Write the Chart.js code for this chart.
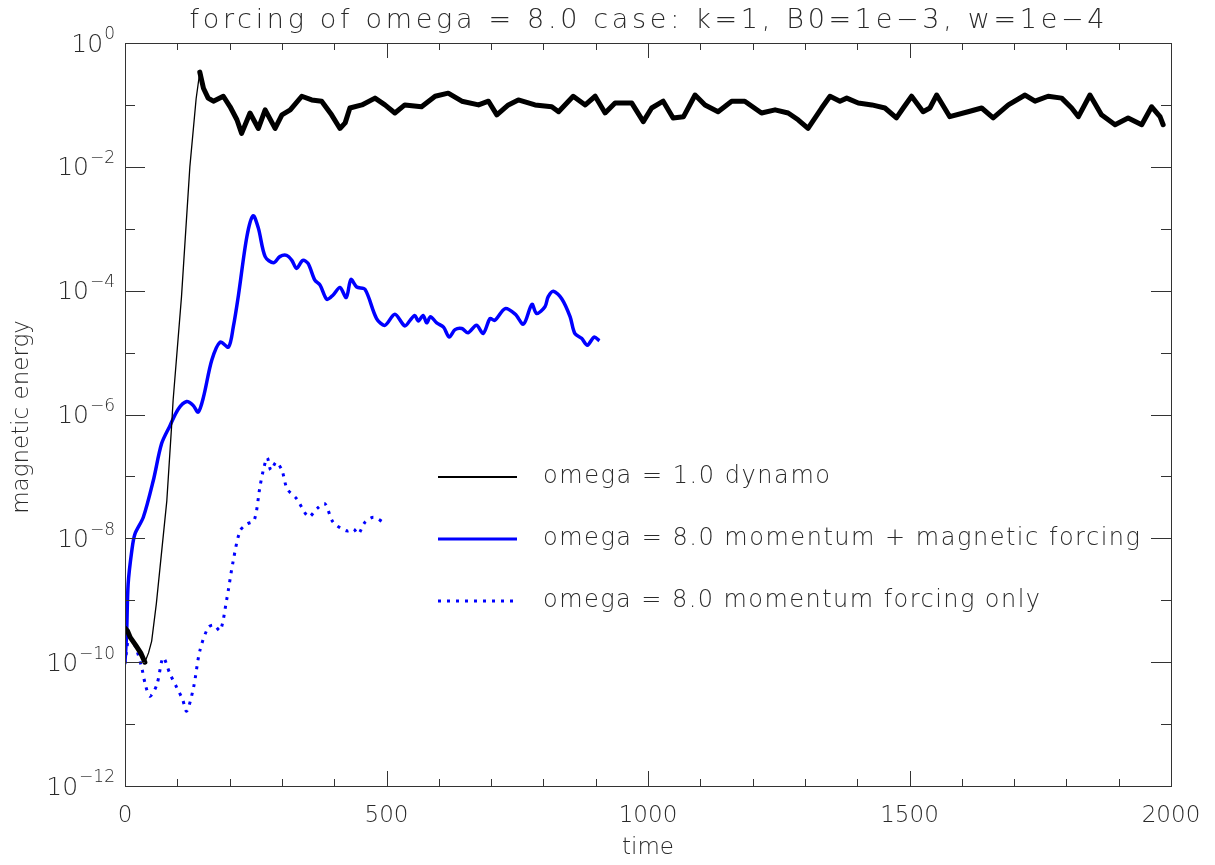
<!DOCTYPE html>
<html>
<head>
<meta charset="utf-8">
<script src="https://cdn.jsdelivr.net/npm/chart.js@4/dist/chart.umd.min.js"></script>
<style>
  html, body { margin: 0; padding: 0; background: #fff; }
  #wrap { width: 1215px; height: 865px; }
</style>
</head>
<body>
<div id="wrap"><canvas id="canvas1" width="1215" height="865"></canvas></div>
<script>
// values: time, log10(magnetic energy)
const dynamoT = [0, 5, 10, 20, 30, 38, 45, 51, 60, 67, 80, 89, 92, 108, 124, 136, 143, 150, 159, 169,
  188, 201, 214, 223, 239, 255, 268, 287, 300, 316, 338, 357, 376, 395, 411, 421, 430, 453, 478, 497,
  516, 535, 567, 593, 618, 644, 676, 695, 711, 733, 752, 784, 816, 829, 857, 880, 899, 918, 937, 969,
  991, 1007, 1029, 1048, 1068, 1090, 1109, 1134, 1160, 1185, 1217, 1243, 1268, 1287, 1306, 1332, 1348, 1367, 1380, 1402,
  1428, 1453, 1475, 1488, 1504, 1526, 1539, 1552, 1577, 1612, 1638, 1660, 1689, 1721, 1740, 1765, 1791, 1810, 1823, 1845,
  1867, 1893, 1918, 1944, 1963, 1979, 1985];
const dynamoLog = [-9.45, -9.5, -9.6, -9.72, -9.85, -10.0, -9.85, -9.66, -9.05, -8.47, -7.39, -6.2, -5.77, -4.1, -2.0, -0.9, -0.47, -0.73, -0.89, -0.94,
  -0.86, -1.03, -1.24, -1.46, -1.13, -1.38, -1.08, -1.38, -1.16, -1.08, -0.86, -0.92, -0.94, -1.16, -1.38, -1.29, -1.05, -1.0, -0.89, -1.0,
  -1.13, -1.0, -1.03, -0.86, -0.81, -0.94, -1.0, -0.94, -1.16, -1.0, -0.92, -1.0, -1.03, -1.11, -0.86, -1.0, -0.86, -1.13, -0.97, -0.97,
  -1.27, -1.05, -0.94, -1.21, -1.19, -0.84, -1.0, -1.11, -0.94, -0.94, -1.13, -1.08, -1.13, -1.24, -1.38, -1.05, -0.86, -0.94, -0.89, -0.97,
  -1.0, -1.05, -1.21, -1.05, -0.86, -1.11, -1.05, -0.84, -1.19, -1.11, -1.05, -1.21, -1.0, -0.84, -0.94, -0.86, -0.89, -1.05, -1.19, -0.84,
  -1.16, -1.32, -1.21, -1.32, -1.03, -1.19, -1.32];

const bothT = [0, 3, 6, 13, 19, 35, 54, 70, 86, 102, 118, 130, 140, 150, 166, 182, 198, 207, 217, 233,
  245, 255, 268, 284, 296, 309, 319, 328, 340, 350, 363, 373, 386, 398, 411, 423, 432, 443, 459, 481,
  497, 516, 535, 545, 554, 561, 570, 577, 584, 596, 609, 620, 631, 644, 656, 672, 685, 698, 707, 727,
  746, 762, 778, 787, 803, 809, 819, 835, 851, 860, 873, 884, 897, 907];
const bothLog = [-10.0, -9.55, -8.74, -8.2, -7.93, -7.66, -7.07, -6.47, -6.18, -5.91, -5.79, -5.85, -5.96, -5.72, -5.12, -4.83, -4.91, -4.59, -4.07, -3.13,
  -2.79, -2.99, -3.45, -3.55, -3.45, -3.43, -3.51, -3.64, -3.51, -3.56, -3.83, -3.91, -4.14, -4.07, -3.95, -4.11, -3.82, -3.94, -3.98, -4.45,
  -4.56, -4.38, -4.57, -4.48, -4.40, -4.49, -4.40, -4.52, -4.42, -4.52, -4.59, -4.75, -4.63, -4.61, -4.68, -4.56, -4.69, -4.45, -4.48, -4.29,
  -4.38, -4.54, -4.22, -4.37, -4.26, -4.10, -4.01, -4.13, -4.42, -4.69, -4.77, -4.88, -4.75, -4.81];

const momT = [0, 8, 20, 32, 40, 48, 61, 73, 86, 99, 110, 118, 131, 143, 159, 170, 182, 194, 207, 220,
  233, 247, 258, 265, 272, 279, 289, 300, 310, 328, 351, 367, 382, 398, 424, 437, 446, 459, 475, 494];
const momLog = [-10.03, -9.6, -9.75, -10.09, -10.4, -10.55, -10.36, -9.93, -10.19, -10.41, -10.6, -10.79, -10.41, -9.82, -9.44, -9.4, -9.49, -9.01, -8.36, -7.88,
  -7.77, -7.71, -7.17, -6.88, -6.70, -6.90, -6.77, -6.90, -7.2, -7.36, -7.65, -7.52, -7.44, -7.74, -7.88, -7.85, -7.93, -7.74, -7.66, -7.74];

const seriesLabels = ["omega = 1.0 dynamo", "omega = 8.0 momentum + magnetic forcing", "omega = 8.0 momentum forcing only"];
const xTicks = [0, 500, 1000, 1500, 2000];
const yExponents = [-12, -10, -8, -6, -4, -2, 0];
const titleText = "forcing of omega = 8.0 case: k=1, B0=1e\u22123, w=1e\u22124";

const FONT = '"DejaVu Sans"';
const INK = "#2a2a2a";

function toPoints(ts, logs) {
  return ts.map((t, i) => ({ x: t, y: Math.pow(10, logs[i]) }));
}

function spacedText(ctx, text, x, y, width, align) {
  // spread the letters so the string covers the same width as the picture
  ctx.letterSpacing = "0px";
  var w = ctx.measureText(text).width;
  var sp = (width - w) / (text.length - 1);
  ctx.letterSpacing = sp + "px";
  var x0 = align === "center" ? x - width / 2 : x;
  ctx.textAlign = "left";
  ctx.fillText(text, x0, y);
  ctx.letterSpacing = "0px";
}

const axesPlugin = {
  id: "idlAxes",
  afterDraw(chart) {
    const ctx = chart.ctx;
    const a = chart.chartArea;
    const xs = chart.scales.x;
    const ys = chart.scales.y;
    ctx.save();
    ctx.strokeStyle = "#333";
    ctx.lineWidth = 1;
    ctx.strokeRect(a.left + 0.5, a.top + 0.5, a.right - a.left, a.bottom - a.top);

    ctx.beginPath();
    for (let v = 0; v <= 2000; v += 100) {
      const px = Math.round(xs.getPixelForValue(v)) + 0.5;
      const len = v % 500 === 0 ? 15 : 7;
      ctx.moveTo(px, a.bottom); ctx.lineTo(px, a.bottom - len);
      ctx.moveTo(px, a.top); ctx.lineTo(px, a.top + len);
    }
    for (let e = -12; e <= 0; e++) {
      const py = Math.round(ys.getPixelForValue(Math.pow(10, e))) + 0.5;
      const len = e % 2 === 0 ? 20 : 10;
      ctx.moveTo(a.left, py); ctx.lineTo(a.left + len, py);
      ctx.moveTo(a.right, py); ctx.lineTo(a.right - len, py);
    }
    ctx.stroke();

    ctx.fillStyle = INK;
    ctx.textBaseline = "middle";
    ctx.font = "200 23px " + FONT;
    ctx.textAlign = "center";
    xTicks.forEach(v => {
      ctx.fillText(String(v), xs.getPixelForValue(v), 816);
    });

    yExponents.forEach(e => {
      const py = ys.getPixelForValue(Math.pow(10, e));
      const ex = e === 0 ? "0" : "\u2212" + Math.abs(e);
      ctx.font = "200 17px " + FONT;
      ctx.textAlign = "right";
      ctx.fillText(ex, 115, py - 8);
      const ew = ctx.measureText(ex).width;
      ctx.font = "200 25px " + FONT;
      ctx.fillText("10", 115 - ew - 1, py + 2);
    });

    ctx.font = "200 23px " + FONT;
    ctx.textAlign = "center";
    ctx.fillText("time", (a.left + a.right) / 2, 848);

    ctx.save();
    ctx.translate(22, 417);
    ctx.rotate(-Math.PI / 2);
    ctx.fillText("magnetic energy", 0, 0);
    ctx.restore();

    ctx.font = "200 27px " + FONT;
    ctx.textBaseline = "alphabetic";
    spacedText(ctx, titleText, 647, 28, 915, "center");

    // legend
    const rows = [477, 539, 601];
    const widths = [287, 597, 497];
    chart.data.datasets.forEach((ds, i) => {
      ctx.beginPath();
      ctx.strokeStyle = ds.borderColor;
      ctx.lineWidth = i === 0 ? 2 : 3;
      ctx.setLineDash(ds.borderDash || []);
      ctx.moveTo(438, rows[i]);
      ctx.lineTo(517, rows[i]);
      ctx.stroke();
      ctx.setLineDash([]);
      ctx.fillStyle = INK;
      ctx.font = "200 24px " + FONT;
      ctx.textBaseline = "alphabetic";
      spacedText(ctx, seriesLabels[i], 543, rows[i] + 6, widths[i], "left");
    });
    ctx.restore();
  }
};

var data = {
  datasets: [
    {
      label: seriesLabels[0],
      data: toPoints(dynamoT, dynamoLog),
      borderColor: "#000000",
      borderWidth: 5,
      borderJoinStyle: "round",
      borderCapStyle: "round",
      tension: 0,
      pointRadius: 0,
      segment: {
        borderWidth: c => (c.p0.parsed.x < 38 || c.p0.parsed.x >= 143) ? 5 : 1.3,
      },
    },
    {
      label: seriesLabels[1],
      data: toPoints(bothT, bothLog),
      borderColor: "#0000ff",
      borderWidth: 3.5,
      tension: 0.3,
      pointRadius: 0,
    },
    {
      label: seriesLabels[2],
      data: toPoints(momT, momLog),
      borderColor: "#0000ff",
      borderWidth: 3,
      borderDash: [3, 6],
      tension: 0.3,
      pointRadius: 0,
    },
  ],
};

var options = {
  responsive: false,
  animation: false,
  layout: { padding: { left: 125, top: 43, right: 44, bottom: 79 } },
  plugins: { legend: { display: false }, tooltip: { enabled: false } },
  scales: {
    x: { type: "linear", min: 0, max: 2000, display: false },
    y: { type: "logarithmic", min: 1e-12, max: 1, display: false },
  },
};

var config = { type: "line", data: data, options: options, plugins: [axesPlugin] };
chart = new Chart(document.getElementById("canvas1"), config);
</script>
</body>
</html>
